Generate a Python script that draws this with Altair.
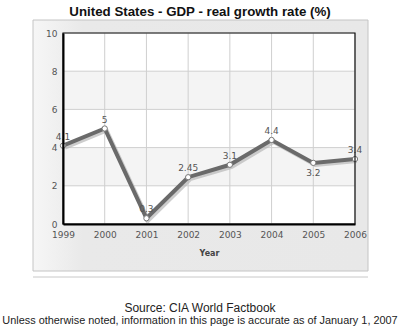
import altair as alt
import pandas as pd

years = [1999, 2000, 2001, 2002, 2003, 2004, 2005, 2006]
growth = [4.1, 5.0, 0.3, 2.45, 3.1, 4.4, 3.2, 3.4]
point_labels = ["4.1", "5", "0.3", "2.45", "3.1", "4.4", "3.2", "3.4"]
labels_below = [2005]
y_ticks = [0, 2, 4, 6, 8, 10]
band_from = [2, 6]
band_to = [4, 8]

title_text = "United States - GDP - real growth rate (%)"
source_line = "Source: CIA World Factbook"
note_line = "Unless otherwise noted, information in this page is accurate as of January 1, 2007"

W, H = 292, 191

df = pd.DataFrame({"year": years, "growth": growth, "label": point_labels})
df["below"] = df["year"].isin(labels_below)
grid_y = pd.DataFrame({"v": y_ticks})
grid_x = pd.DataFrame({"year": years})
bands = pd.DataFrame({"lo": band_from, "hi": band_to})

xs = alt.Scale(domain=[min(years), max(years)], nice=False, zero=False)
ys = alt.Scale(domain=[0, 10], nice=False)
FONT = "DejaVu Sans"

x_axis = alt.Axis(values=years, format="d", title="Year", grid=False,
                  ticks=False, domain=True, domainColor="black", domainWidth=2,
                  labelFont=FONT, labelFontSize=9, labelColor="#555",
                  labelPadding=6, labelFlush=False, labelOverlap=False,
                  titleFont=FONT, titleFontSize=8,
                  titleFontWeight="bold", titleColor="#444", titlePadding=10,
                  zindex=1)
y_axis = alt.Axis(values=y_ticks, title=None, grid=False, ticks=False,
                  domain=True, domainColor="black", domainWidth=2,
                  labelFont=FONT, labelFontSize=9, labelColor="#555",
                  labelPadding=6, labelFlush=False, labelOverlap=False,
                  zindex=1)


def X(field):
    return alt.X(field, scale=xs, axis=x_axis, title="Year")


def Y(field):
    return alt.Y(field, scale=ys, axis=y_axis, title=None)


one = pd.DataFrame({"a": [0]})

panel = alt.Chart(one).mark_rect(
    fill=alt.Gradient(gradient="linear", x1=0, x2=1, y1=0, y2=0,
                      stops=[alt.GradientStop(color="#f6f6f6", offset=0),
                             alt.GradientStop(color="#e9e9e9", offset=0.15),
                             alt.GradientStop(color="#e8e8e8", offset=1)]),
    stroke="#c4c4c4", strokeWidth=1
).encode(x=alt.value(-30), x2=alt.value(305), y=alt.value(-13), y2=alt.value(238))

plot_bg = alt.Chart(one).mark_rect(fill="white").encode(
    x=alt.value(0), x2=alt.value(W), y=alt.value(0), y2=alt.value(H))

band_layer = alt.Chart(bands).mark_rect(fill="#f4f4f4").encode(
    y=Y("lo:Q"), y2="hi:Q", x=alt.value(0), x2=alt.value(W))

hgrid = alt.Chart(grid_y).mark_rule(color="#cfcfcf", strokeWidth=1).encode(y=Y("v:Q"))
vgrid = alt.Chart(grid_x).mark_rule(color="#cfcfcf", strokeWidth=1).encode(x=X("year:Q"))

shadow = alt.Chart(df).mark_line(color="#b8b8b8", strokeWidth=4, opacity=0.7,
                                 xOffset=2, yOffset=2).encode(
    x=X("year:Q"), y=Y("growth:Q"))

line = alt.Chart(df).mark_line(color="#6a6a6a", strokeWidth=4).encode(
    x=X("year:Q"), y=Y("growth:Q"))

points = alt.Chart(df).mark_point(shape="circle", filled=True, fill="white",
                                  stroke="#777", strokeWidth=1, size=28, opacity=1).encode(
    x=X("year:Q"), y=Y("growth:Q"))

text_above = alt.Chart(df).transform_filter("!datum.below").mark_text(
    font=FONT, fontSize=9, color="#555", dy=-9, baseline="middle").encode(
    x=X("year:Q"), y=Y("growth:Q"), text="label:N")

text_below = alt.Chart(df).transform_filter("datum.below").mark_text(
    font=FONT, fontSize=9, color="#555", dy=10, baseline="middle").encode(
    x=X("year:Q"), y=Y("growth:Q"), text="label:N")

frame = alt.Chart(one).mark_rect(fill=None, fillOpacity=0, stroke="#111", strokeWidth=1.2).encode(
    x=alt.value(0), x2=alt.value(W), y=alt.value(0), y2=alt.value(H))

sep = alt.Chart(one).mark_rule(color="#c8c8c8", strokeWidth=1).encode(
    x=alt.value(-30), x2=alt.value(305), y=alt.value(244))

src = alt.Chart(one).mark_text(font="Liberation Sans", fontSize=12, color="#222",
                               align="center", baseline="alphabetic").encode(
    x=alt.value(137), y=alt.value(279), text=alt.value(source_line))
note = alt.Chart(one).mark_text(font="Liberation Sans", fontSize=10.9, color="#222",
                                align="center", baseline="alphabetic").encode(
    x=alt.value(137), y=alt.value(291), text=alt.value(note_line))

chart = alt.layer(panel, plot_bg, band_layer, hgrid, vgrid, shadow, line, points,
                  text_above, text_below, frame, sep, src, note).properties(
    width=W, height=H,
    title=alt.TitleParams(title_text, font="Liberation Sans", fontSize=13.3,
                          fontWeight="bold", color="#111", anchor="middle",
                          dx=-9, offset=1),
    autosize=alt.AutoSizeParams(type="none"),
    padding={"left": 63, "top": 33, "right": 45, "bottom": 105},
).configure_view(stroke=None).configure(background="white")

chart.save("out.html", embed_options={"renderer": "svg", "actions": False})
